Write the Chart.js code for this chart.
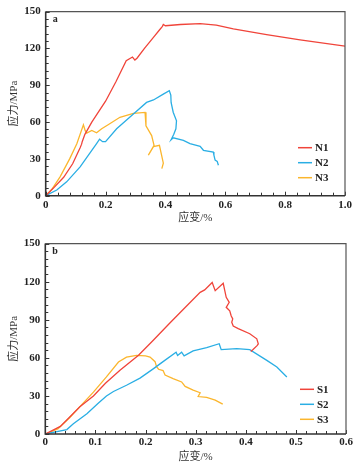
<!DOCTYPE html>
<html><head><meta charset="utf-8">
<script src="https://cdn.jsdelivr.net/npm/chart.js@4/dist/chart.umd.min.js"></script>
<style>
html,body{margin:0;padding:0;background:#ffffff;}
#wrap{position:relative;width:357px;height:466px;overflow:hidden;}
canvas{position:absolute;left:0;}
#ca{top:0;}
#cb{top:232px;}
</style></head><body>
<div id="wrap"><canvas id="ca" width="357" height="232"></canvas><canvas id="cb" width="357" height="234"></canvas></div>
<script>
// ---------- data (strain %, stress MPa) ----------
const n1Strain = [0,0.025,0.06,0.09,0.115,0.12,0.122,0.131,0.154,0.2,0.235,0.269,0.29,0.298,0.305,0.33,0.36,0.38,0.39,0.393,0.4,0.45,0.516,0.57,0.627,0.738,0.85,1.0];
const n1Stress = [0,6,15,26,39,42,44,50,60,77,93,110,113,110.5,112,120,129,135,138,139.5,138.5,139.5,140.2,139,136,131.3,127,121.8];
const n2Strain = [0,0.037,0.07,0.115,0.17,0.18,0.19,0.2,0.237,0.293,0.337,0.36,0.393,0.413,0.418,0.419,0.426,0.437,0.435,0.428,0.419,0.426,0.46,0.482,0.516,0.527,0.56,0.562,0.566,0.573,0.577];
const n2Stress = [0,4.6,11.3,23.5,42.4,46,44,44,54.5,66.6,76,78,82.8,85.5,82,76,68,61,54.5,50,45.6,47.2,45,42.4,40.2,37,35.6,33,29,28,24.8];
const n3Strain = [0,0.02,0.048,0.08,0.104,0.126,0.132,0.137,0.154,0.17,0.187,0.21,0.248,0.293,0.332,0.335,0.354,0.362,0.343,0.36,0.38,0.393,0.388];
const n3Stress = [0,5,15.4,30,42.4,57.7,53,51,53.1,51.2,54.5,58,63.9,67.1,67.9,57,49,41,33,40,41,26.5,22];

const s1Strain = [0,0.03,0.069,0.096,0.12,0.149,0.186,0.215,0.25,0.28,0.309,0.318,0.333,0.339,0.355,0.361,0.367,0.361,0.368,0.371,0.374,0.372,0.375,0.385,0.408,0.422,0.425,0.423,0.414,0.41];
const s1Stress = [0,6,21.4,30,40,50.2,62,73.7,88,100,111.6,113.5,119.4,112.9,118.7,107.7,103.7,99.8,97,93,90.7,88,85,83,79,75,71,69.8,66.4,65];
const s2Strain = [0,0.043,0.056,0.083,0.105,0.122,0.136,0.162,0.189,0.216,0.235,0.261,0.264,0.272,0.277,0.295,0.322,0.347,0.351,0.382,0.408,0.442,0.462,0.482];
const s2Stress = [0,3.5,8,16,24,30,33.5,38.4,44,51.5,57,64.5,61.9,64.5,61.5,65.5,68,71.1,66.5,67.2,66.4,58,52.8,44.9];
const s3Strain = [0,0.025,0.049,0.07,0.096,0.122,0.146,0.162,0.182,0.2,0.209,0.219,0.222,0.226,0.235,0.239,0.255,0.272,0.279,0.295,0.309,0.305,0.322,0.339,0.354];
const s3Stress = [0,4,13,22,33,45,56.7,60.6,61.9,61.5,60.6,57,53,51,50,46.5,43.7,41,37.5,34.5,32.5,29.5,28.8,26.7,23.5];

const labelsA = ['N1','N2','N3'];
const labelsB = ['S1','S2','S3'];
const yMajor = [0,30,60,90,120,150];
const xMajorA = [0,0.2,0.4,0.6,0.8,1.0];
const xMajorB = [0,0.1,0.2,0.3,0.4,0.5,0.6];
const yTitle = '应力/MPa';
const xTitle = '应变/%';

const COLORS = ['#f0443a','#2aaee4','#fbb62d'];
const FONT = '"Liberation Serif", "Noto Sans CJK SC", serif';

function pts(xs, ys){ return xs.map((x,i)=>({x:x, y:ys[i]})); }
function majorCb(list, digits){
  return function(v){
    for (const m of list){ if (Math.abs(v-m) < 1e-6) return m === 0 ? '0' : m.toFixed(digits); }
    return '';
  };
}

const framePlugin = {
  id: 'frame',
  afterDraw(chart, args, opts){
    const ctx = chart.ctx;
    const {left, right, top, bottom} = chart.chartArea;
    const xs = chart.scales.x, ys = chart.scales.y;
    ctx.save();
    ctx.strokeStyle = '#333';
    ctx.lineWidth = 1;
    xs.ticks.forEach(t => {
      const px = Math.round(xs.getPixelForValue(t.value)) + 0.5;
      const len = t.label !== '' ? 4 : 3;
      ctx.beginPath(); ctx.moveTo(px, bottom); ctx.lineTo(px, bottom - len); ctx.stroke();
    });
    ys.ticks.forEach(t => {
      const py = Math.round(ys.getPixelForValue(t.value)) + 0.5;
      const len = t.label !== '' ? 4 : 3;
      ctx.beginPath(); ctx.moveTo(left, py); ctx.lineTo(left + len, py); ctx.stroke();
    });
    // frame
    ctx.strokeStyle = '#555'; ctx.lineWidth = 1.2;
    ctx.beginPath(); ctx.moveTo(left, top); ctx.lineTo(right, top); ctx.lineTo(right, bottom); ctx.stroke();
    ctx.strokeStyle = '#333'; ctx.lineWidth = 1.6;
    ctx.beginPath(); ctx.moveTo(left, top); ctx.lineTo(left, bottom); ctx.lineTo(right, bottom); ctx.stroke();
    // panel letter
    ctx.fillStyle = '#222';
    ctx.font = 'bold 10px ' + FONT;
    ctx.textBaseline = 'middle'; ctx.textAlign = 'left';
    ctx.fillText(opts.panel, left + 7, top + 8);
    // legend
    ctx.font = 'bold 11px ' + FONT;
    chart.data.datasets.forEach((ds, i) => {
      const y = opts.legendY + i * 15;
      ctx.strokeStyle = ds.borderColor; ctx.lineWidth = 1.5;
      ctx.beginPath(); ctx.moveTo(opts.legendX, y); ctx.lineTo(opts.legendX + 14, y); ctx.stroke();
      ctx.fillStyle = '#222';
      ctx.fillText(ds.label, opts.legendX + 17, y + 0.5);
    });
    ctx.restore();
  }
};

function makeChart(id, sets, cfg){
  return new Chart(document.getElementById(id), {
    type: 'line',
    data: {
      datasets: sets.map((s, i) => ({
        label: s.label, data: s.data, borderColor: COLORS[i], backgroundColor: COLORS[i],
        borderWidth: 1.3, pointRadius: 0, tension: 0, fill: false
      }))
    },
    options: {
      responsive: false, animation: false, devicePixelRatio: 1,
      layout: { padding: { top: cfg.padTop, right: cfg.padRight, left: 0, bottom: 0 } },
      plugins: { legend: { display: false }, tooltip: { enabled: false },
        frame: { panel: cfg.panel, legendX: cfg.legendX, legendY: cfg.legendY } },
      scales: {
        x: {
          type: 'linear', min: 0, max: cfg.xMax,
          grid: { display: false, drawTicks: false }, border: { display: false },
          ticks: { stepSize: cfg.xStep, autoSkip: false, maxRotation: 0, padding: cfg.xTickPad,
            callback: majorCb(cfg.xMajor, 1), color: '#222', font: { family: FONT, size: 11, weight: 'bold' } },
          title: { display: true, text: xTitle, color: '#333', padding: { top: 0, bottom: cfg.xTitlePad },
            font: { family: FONT, size: 11 } },
          afterFit: s => { s.height = cfg.xH; }
        },
        y: {
          type: 'linear', min: 0, max: 150,
          grid: { display: false, drawTicks: false }, border: { display: false },
          ticks: { stepSize: 6, autoSkip: false, padding: 5,
            callback: majorCb(yMajor, 0), color: '#222', font: { family: FONT, size: 11, weight: 'bold' } },
          title: { display: true, text: yTitle, color: '#333', padding: { top: 8, bottom: 0 },
            font: { family: FONT, size: 11 } },
          afterFit: s => { s.width = cfg.yW; }
        }
      }
    },
    plugins: [framePlugin]
  });
}

makeChart('ca', [
  { label: labelsA[0], data: pts(n1Strain, n1Stress) },
  { label: labelsA[1], data: pts(n2Strain, n2Stress) },
  { label: labelsA[2], data: pts(n3Strain, n3Stress) }
], { padTop: 10, padRight: 12, xMax: 1.0, xStep: 0.04, xMajor: xMajorA, xTickPad: 3, xTitlePad: 7.4,
     xH: 36.3, yW: 45.7, panel: 'a', legendX: 298, legendY: 147.7 });

makeChart('cb', [
  { label: labelsB[0], data: pts(s1Strain, s1Stress) },
  { label: labelsB[1], data: pts(s2Strain, s2Stress) },
  { label: labelsB[2], data: pts(s3Strain, s3Stress) }
], { padTop: 10.7, padRight: 11, xMax: 0.6, xStep: 0.02, xMajor: xMajorB, xTickPad: 2, xTitlePad: 2.7,
     xH: 32, yW: 45.3, panel: 'b', legendX: 300, legendY: 157.3 });
</script>
</body></html>
